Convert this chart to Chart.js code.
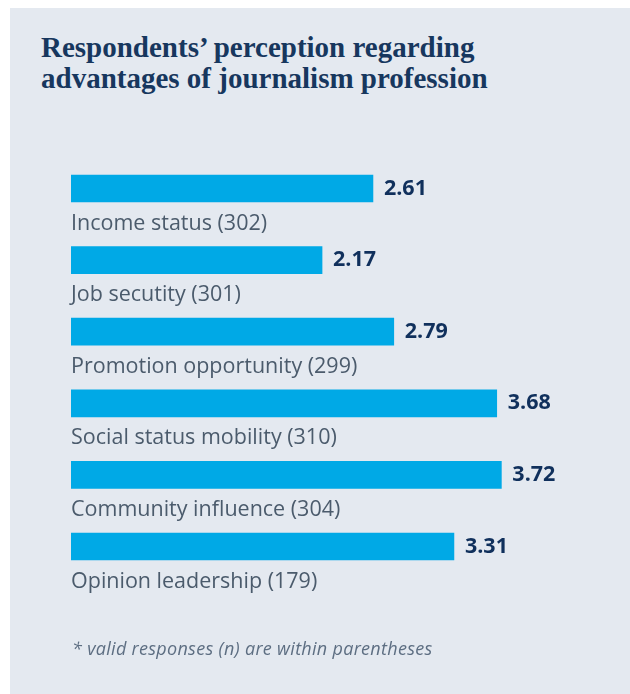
<!DOCTYPE html>
<html>
<head>
<meta charset="utf-8">
<script src="https://cdn.jsdelivr.net/npm/chart.js@4"></script>
<style>
  html, body { margin: 0; padding: 0; background: #ffffff; }
  #panel { position: absolute; left: 10px; top: 8px; width: 620px; height: 686px; background: #e4e9f0; }
  #title { position: absolute; left: 41px; top: 32px; margin: 0; font-family: "Liberation Serif", serif; font-weight: bold;
           font-size: 29px; line-height: 31px; color: #17375e; }
  #note { position: absolute; left: 72px; top: 636px; margin: 0; font-family: "Open Sans", sans-serif; font-style: italic;
          font-size: 18px; color: #5d6e82; letter-spacing: 0.3px; }
  #wrap { position: absolute; left: 0; top: 0; width: 630px; height: 694px; }
</style>
</head>
<body>
<div id="panel"></div>
<h1 id="title">Respondents’ perception regarding<br>advantages of journalism profession</h1>
<div id="wrap"><canvas id="chart1"></canvas></div>
<p id="note">* valid responses (n) are within parentheses</p>
<script>
var categories = ["Income status", "Job secutity", "Promotion opportunity", "Social status mobility", "Community influence", "Opinion leadership"];
var responses = [302, 301, 299, 310, 304, 179];
var scores = [2.61, 2.17, 2.79, 3.68, 3.72, 3.31];

var labels = [];
for (var i = 0; i < categories.length; i++) {
	labels.push(categories[i] + " (" + responses[i] + ")");
}

// draws the category name under each bar and the score to its right
var barText = {
	id: 'barText',
	afterDatasetsDraw: function(chart) {
		var ctx = chart.ctx;
		var bars = chart.getDatasetMeta(0).data;
		ctx.save();
		ctx.textBaseline = 'middle';
		ctx.textAlign = 'left';
		bars.forEach(function(bar, i) {
			ctx.font = 'bold 21.5px "Open Sans"';
			ctx.fillStyle = '#10305c';
			ctx.fillText(scores[i].toFixed(2), bar.x + 11, bar.y);
			ctx.font = '21.5px "Open Sans"';
			ctx.fillStyle = '#4b5b6c';
			ctx.fillText(labels[i], chart.chartArea.left, bar.y + 35);
		});
		ctx.restore();
	}
};

var ctx = document.getElementById("chart1").getContext("2d");
new Chart(ctx, {
	type: 'bar',
	data: {
		labels: labels,
		datasets: [{
			data: scores,
			backgroundColor: '#00a9e6',
			barThickness: 27
		}]
	},
	options: {
		indexAxis: 'y',
		responsive: true,
		maintainAspectRatio: false,
		animation: false,
		layout: { padding: { left: 71, right: 38.4, top: 152.7, bottom: 111.7 } },
		plugins: { legend: { display: false }, tooltip: { enabled: false } },
		scales: {
			x: { display: false, min: 0, max: 4.5 },
			y: { display: false }
		}
	},
	plugins: [barText]
});
</script>
</body>
</html>
